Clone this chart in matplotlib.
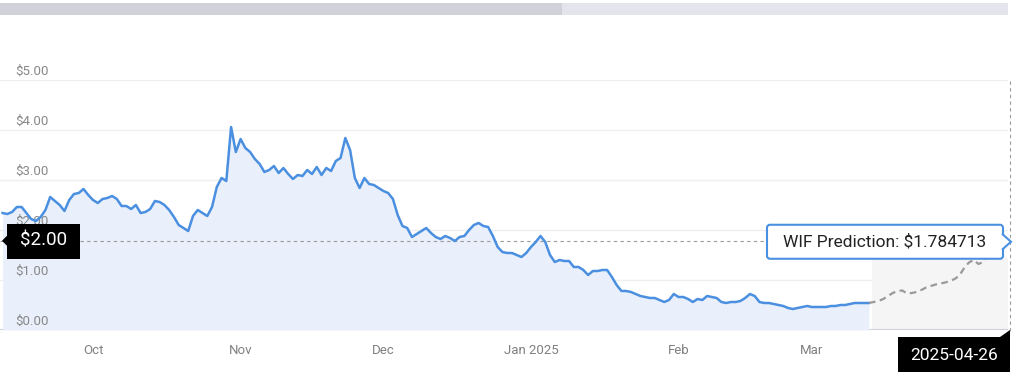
"""WIF price history with a short-term prediction overlay."""

import matplotlib
import matplotlib.dates as mdates
import matplotlib.pyplot as plt
import pandas as pd
from matplotlib.patches import FancyBboxPatch, Polygon, Rectangle
from matplotlib.transforms import Affine2D

matplotlib.use("Agg")

W, H = 1024, 381

# daily closing price, one value per day starting at HISTORY_START
HISTORY_START = "2024-09-12"
history_prices = [
    2.34, 2.32, 2.36, 2.46, 2.46, 2.34, 2.22, 2.18, 2.26, 2.40,
    2.66, 2.58, 2.50, 2.38, 2.60, 2.72, 2.74, 2.82, 2.70, 2.60,
    2.54, 2.62, 2.64, 2.68, 2.62, 2.48, 2.48, 2.42, 2.50, 2.34,
    2.36, 2.42, 2.58, 2.56, 2.50, 2.40, 2.26, 2.10, 2.04, 1.98,
    2.28, 2.40, 2.34, 2.28, 2.46, 2.86, 3.04, 2.98, 4.06, 3.56,
    3.82, 3.64, 3.56, 3.42, 3.32, 3.16, 3.20, 3.28, 3.14, 3.24,
    3.12, 3.02, 3.10, 3.08, 3.20, 3.12, 3.26, 3.10, 3.24, 3.18,
    3.38, 3.44, 3.84, 3.60, 3.04, 2.84, 3.04, 2.92, 2.90, 2.84,
    2.78, 2.74, 2.62, 2.30, 2.08, 2.04, 1.86, 1.92, 1.98, 2.04,
    1.94, 1.86, 1.82, 1.88, 1.84, 1.78, 1.86, 1.88, 2.00, 2.10,
    2.14, 2.08, 2.06, 1.88, 1.66, 1.56, 1.54, 1.54, 1.50, 1.46,
    1.54, 1.66, 1.76, 1.88, 1.76, 1.50, 1.36, 1.40, 1.38, 1.38,
    1.26, 1.26, 1.20, 1.10, 1.18, 1.18, 1.20, 1.20, 1.06, 0.90,
    0.78, 0.78, 0.76, 0.72, 0.68, 0.66, 0.64, 0.64, 0.60, 0.56,
    0.60, 0.72, 0.66, 0.66, 0.62, 0.56, 0.62, 0.60, 0.68, 0.66,
    0.64, 0.56, 0.54, 0.56, 0.56, 0.58, 0.64, 0.72, 0.68, 0.56,
    0.54, 0.54, 0.52, 0.50, 0.48, 0.44, 0.42, 0.44, 0.46, 0.48,
    0.46, 0.46, 0.46, 0.46, 0.48, 0.48, 0.50, 0.50, 0.52, 0.54,
    0.54, 0.54, 0.54,
]

# forecast path, one value per day starting at the last history day
forecast_prices = [
    0.54, 0.56, 0.58, 0.62, 0.68, 0.74, 0.78, 0.79, 0.73, 0.74,
    0.76, 0.80, 0.85, 0.88, 0.91, 0.93, 0.95, 0.98, 1.02, 1.09,
    1.24, 1.35, 1.40, 1.32, 1.36, 1.56, 1.64, 1.70, 1.75, 1.784713,
]

PREDICTION_VALUE = 1.784713
PREDICTION_DATE = "2025-04-26"
CROSSHAIR_LABEL = "$2.00"

y_ticks = [0, 1, 2, 3, 4, 5]
month_ticks = ["2024-10-01", "2024-11-01", "2024-12-01", "2025-01-01", "2025-02-01", "2025-03-01"]
month_labels = ["Oct", "Nov", "Dec", "Jan 2025", "Feb", "Mar"]

BLUE = "#4a8fe0"
FONT = "Roboto"


def px_transform(fig):
    """Figure pixel coords, origin top-left."""
    return Affine2D().scale(1 / W, -1 / H).translate(0, 1) + fig.transFigure


def main():
    plt.rcParams["font.family"] = [FONT, "DejaVu Sans"]

    hist_dates = pd.date_range(HISTORY_START, periods=len(history_prices), freq="D")
    fc_dates = pd.date_range(hist_dates[-1], periods=len(forecast_prices), freq="D")

    fig = plt.figure(figsize=(W / 100, H / 100), dpi=100)
    ax = fig.add_axes([0, 51 / H, 1008 / W, 250 / H])

    x_left = hist_dates[0] - pd.Timedelta(hours=13)
    x_right = fc_dates[-1] + pd.Timedelta(hours=5)
    ax.set_xlim(x_left, x_right)
    ax.set_ylim(0, 5)

    # grid
    for v in y_ticks[1:]:
        ax.axhline(v, color="#efefef", lw=1, zorder=0)
    ax.axhline(0, color="#ccd0d8", lw=1.5, zorder=1)

    # forecast zone shading
    ax.add_patch(Rectangle((mdates.date2num(fc_dates[0]) + 0.6, 0),
                           mdates.date2num(x_right) - mdates.date2num(fc_dates[0]),
                           1.45, color="#f5f5f5", lw=0, zorder=0))

    ax.fill_between(hist_dates, history_prices, 0, color="#e9f0fb", lw=0, zorder=1)
    ax.plot(hist_dates, history_prices, color=BLUE, lw=1.8, zorder=3,
            solid_joinstyle="round")
    ax.plot(fc_dates, forecast_prices, color="#9a9a9a", lw=1.6, ls=(0, (3, 2)), zorder=3)

    # crosshair at prediction value
    ax.axhline(PREDICTION_VALUE, color="#9a9a9a", lw=0.8, ls=(0, (3, 3)), zorder=2)

    # y labels sit above their grid lines
    for v in y_ticks:
        ax.annotate(f"${v:.2f}", xy=(0, v), xycoords=("axes fraction", "data"),
                    xytext=(15, 2), textcoords="offset pixels", fontsize=9.5,
                    color="#888888", ha="left", va="bottom", zorder=2)

    ax.set_yticks([])
    ax.set_xticks(pd.to_datetime(month_ticks))
    ax.set_xticklabels(month_labels, fontsize=9.5, color="#808080")
    ax.tick_params(axis="x", length=0, pad=10)
    for s in ax.spines.values():
        s.set_visible(False)
    ax.patch.set_alpha(0)

    T = px_transform(fig)
    cy = H - ax.transData.transform((0, PREDICTION_VALUE))[1]

    # top scroll bar
    fig.patches.append(Rectangle((0, 3), 562, 12, transform=T, color="#d1d2d9", lw=0))
    fig.patches.append(Rectangle((562, 3), 446, 12, transform=T, color="#e3e4ec", lw=0))

    # vertical crosshair
    fig.lines.append(plt.Line2D([1010, 1010], [81, 331], transform=T, color="#9a9a9a",
                                lw=0.8, ls=(0, (3, 3))))

    # y crosshair label
    fig.patches.append(Rectangle((7, cy - 17), 73, 35, transform=T, color="black", lw=0, zorder=5))
    fig.patches.append(Polygon([(7, cy - 5), (2, cy), (7, cy + 5)], transform=T, color="black",
                               lw=0, zorder=5))
    fig.text(43.5, cy, CROSSHAIR_LABEL, transform=T, color="white", fontsize=13.5,
             ha="center", va="center", zorder=6)

    # x crosshair label
    fig.patches.append(Rectangle((898, 337), 112, 35, transform=T, color="black", lw=0, zorder=5))
    fig.patches.append(Polygon([(1000, 337), (1010, 330), (1010, 337)], transform=T,
                               color="black", lw=0, zorder=5))
    fig.text(954, 355, PREDICTION_DATE, transform=T, color="white", fontsize=12.5,
             ha="center", va="center", zorder=6)

    # prediction tooltip
    fig.patches.append(FancyBboxPatch((767, cy - 16), 236, 34, transform=T,
                                      boxstyle="round,pad=0,rounding_size=3",
                                      fc="white", ec="#4a90e2", lw=1.5, zorder=5))
    fig.patches.append(Polygon([(1002, cy - 7), (1011, cy + 1), (1002, cy + 9)], transform=T,
                               fc="white", ec="#4a90e2", lw=1.5, zorder=5, closed=False))
    fig.text(885, cy + 1, f"WIF Prediction: ${PREDICTION_VALUE}", transform=T,
             color="#222222", fontsize=12.5, ha="center", va="center", zorder=6)

    fig.savefig("out.png", dpi=100)
    plt.close(fig)


if __name__ == "__main__":
    main()
